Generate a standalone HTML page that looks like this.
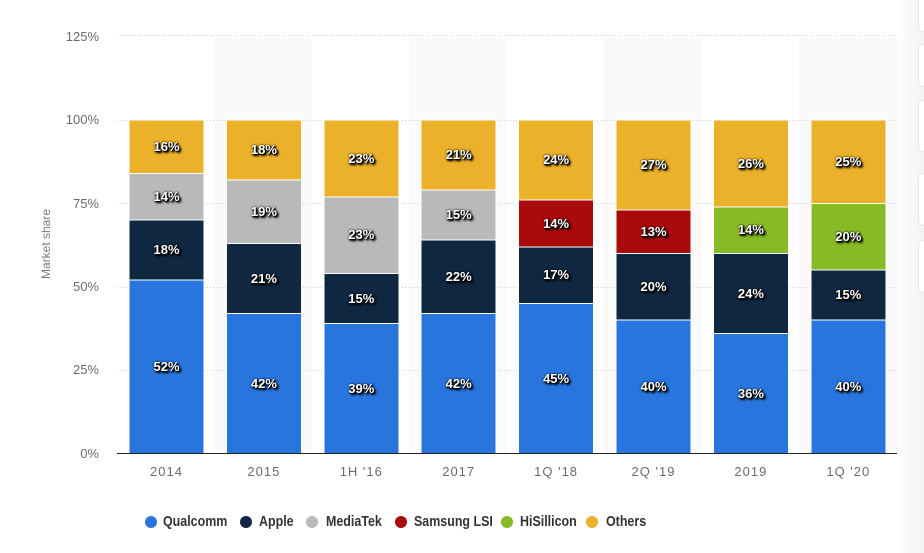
<!DOCTYPE html>
<html><head><meta charset="utf-8">
<style>
*{margin:0;padding:0;box-sizing:border-box}
html,body{width:924px;height:553px;background:#fff;overflow:hidden}
body{position:relative;font-family:"Liberation Sans",sans-serif}
svg{position:absolute;left:0;top:0}
.yl{position:absolute;width:60px;left:39px;text-align:right;font-size:13px;color:#6b6b6b;height:16px;line-height:16px}
.xl{position:absolute;width:100px;text-align:center;font-size:13px;color:#6b6b6b;letter-spacing:1px;height:16px;line-height:16px;top:464px}
.dl{position:absolute;width:80px;text-align:center;font-size:13px;font-weight:bold;color:#fff;height:16px;line-height:16px;text-shadow:1px 1px 1px #000,1px 1px 2px #000,2px 2px 2px #000,0 0 2px #000}
.lc{position:absolute;width:12px;height:12px;border-radius:50%;top:516px}
.lt{position:absolute;top:512px;font-size:15px;font-weight:bold;color:#333;white-space:nowrap;transform:scaleX(0.83);transform-origin:left center;line-height:20px}
.ms{position:absolute;left:-4px;top:236px;width:100px;text-align:center;font-size:12px;color:#7a7a7a;transform:rotate(-90deg);line-height:16px}
.rp{position:absolute;left:896px;top:0;width:28px;height:553px;background:linear-gradient(to right,#ffffff,#f2f3f5)}
.rb{position:absolute;left:918px;width:10px;background:#fff;border:1px solid #e6e7ea;border-radius:6px}
</style></head><body>
<div class="rp"></div>
<div class="rb" style="top:-6px;height:38px"></div>
<div class="rb" style="top:44px;height:43px"></div>
<div class="rb" style="top:100px;height:52px"></div>
<div class="rb" style="top:173px;height:53px"></div>
<div class="rb" style="top:240px;height:53px"></div>
<svg width="924" height="553" viewBox="0 0 924 553" shape-rendering="crispEdges">
<rect x="214" y="38" width="98" height="415" fill="#fafafa"/>
<rect x="409" y="38" width="98" height="415" fill="#fafafa"/>
<rect x="604" y="38" width="97" height="415" fill="#fafafa"/>
<rect x="799" y="38" width="98" height="415" fill="#fafafa"/>
<g stroke="#cfcfcf" stroke-width="1" stroke-dasharray="1,2">
<line x1="117" y1="35.5" x2="897" y2="35.5"/>
<line x1="117" y1="120.5" x2="897" y2="120.5"/>
<line x1="117" y1="203.5" x2="897" y2="203.5"/>
<line x1="117" y1="287.5" x2="897" y2="287.5"/>
<line x1="117" y1="370.5" x2="897" y2="370.5"/>
</g>
<g stroke="#fff" stroke-width="1">
<rect x="129" y="280.2" width="75" height="173.3" fill="#2876dd"/>
<rect x="129" y="220.2" width="75" height="60" fill="#0f2740"/>
<rect x="129" y="173.5" width="75" height="46.7" fill="#b9b9b9"/>
<rect x="129" y="120.2" width="75" height="53.3" fill="#ecb12a"/>
<rect x="226.4" y="313.5" width="75" height="140" fill="#2876dd"/>
<rect x="226.4" y="243.5" width="75" height="70" fill="#0f2740"/>
<rect x="226.4" y="180.2" width="75" height="63.3" fill="#b9b9b9"/>
<rect x="226.4" y="120.2" width="75" height="60" fill="#ecb12a"/>
<rect x="323.8" y="323.5" width="75" height="130" fill="#2876dd"/>
<rect x="323.8" y="273.5" width="75" height="50" fill="#0f2740"/>
<rect x="323.8" y="196.8" width="75" height="76.7" fill="#b9b9b9"/>
<rect x="323.8" y="120.2" width="75" height="76.6" fill="#ecb12a"/>
<rect x="421.2" y="313.5" width="75" height="140" fill="#2876dd"/>
<rect x="421.2" y="240.2" width="75" height="73.3" fill="#0f2740"/>
<rect x="421.2" y="190.2" width="75" height="50" fill="#b9b9b9"/>
<rect x="421.2" y="120.2" width="75" height="70" fill="#ecb12a"/>
<rect x="518.6" y="303.5" width="75" height="150" fill="#2876dd"/>
<rect x="518.6" y="246.8" width="75" height="56.7" fill="#0f2740"/>
<rect x="518.6" y="200.2" width="75" height="46.6" fill="#a90a0b"/>
<rect x="518.6" y="120.2" width="75" height="80" fill="#ecb12a"/>
<rect x="616" y="320.2" width="75" height="133.3" fill="#2876dd"/>
<rect x="616" y="253.5" width="75" height="66.7" fill="#0f2740"/>
<rect x="616" y="210.2" width="75" height="43.3" fill="#a90a0b"/>
<rect x="616" y="120.2" width="75" height="90" fill="#ecb12a"/>
<rect x="713.4" y="333.5" width="75" height="120" fill="#2876dd"/>
<rect x="713.4" y="253.5" width="75" height="80" fill="#0f2740"/>
<rect x="713.4" y="206.8" width="75" height="46.7" fill="#87bb25"/>
<rect x="713.4" y="120.2" width="75" height="86.6" fill="#ecb12a"/>
<rect x="810.8" y="320.2" width="75" height="133.3" fill="#2876dd"/>
<rect x="810.8" y="270.2" width="75" height="50" fill="#0f2740"/>
<rect x="810.8" y="203.5" width="75" height="66.7" fill="#87bb25"/>
<rect x="810.8" y="120.2" width="75" height="83.3" fill="#ecb12a"/>
</g>
<line x1="117" y1="453.5" x2="897" y2="453.5" stroke="#222" stroke-width="1"/>
</svg>

<div class="yl" style="top:29px">125%</div>
<div class="yl" style="top:112px">100%</div>
<div class="yl" style="top:196px">75%</div>
<div class="yl" style="top:279px">50%</div>
<div class="yl" style="top:362px">25%</div>
<div class="yl" style="top:446px">0%</div>
<div class="ms">Market share</div>

<div class="xl" style="left:116.5px">2014</div>
<div class="xl" style="left:213.9px">2015</div>
<div class="xl" style="left:311.3px">1H '16</div>
<div class="xl" style="left:408.7px">2017</div>
<div class="xl" style="left:506.1px">1Q '18</div>
<div class="xl" style="left:603.5px">2Q '19</div>
<div class="xl" style="left:700.9px">2019</div>
<div class="xl" style="left:798.3px">1Q '20</div>

<div class="dl" style="left:126.5px;top:358.8px">52%</div>
<div class="dl" style="left:126.5px;top:242.2px">18%</div>
<div class="dl" style="left:126.5px;top:188.8px">14%</div>
<div class="dl" style="left:126.5px;top:138.8px">16%</div>

<div class="dl" style="left:223.9px;top:375.5px">42%</div>
<div class="dl" style="left:223.9px;top:270.5px">21%</div>
<div class="dl" style="left:223.9px;top:203.8px">19%</div>
<div class="dl" style="left:223.9px;top:142.2px">18%</div>

<div class="dl" style="left:321.3px;top:380.5px">39%</div>
<div class="dl" style="left:321.3px;top:290.5px">15%</div>
<div class="dl" style="left:321.3px;top:227.2px">23%</div>
<div class="dl" style="left:321.3px;top:150.5px">23%</div>

<div class="dl" style="left:418.7px;top:375.5px">42%</div>
<div class="dl" style="left:418.7px;top:268.8px">22%</div>
<div class="dl" style="left:418.7px;top:207.2px">15%</div>
<div class="dl" style="left:418.7px;top:147.2px">21%</div>

<div class="dl" style="left:516.1px;top:370.5px">45%</div>
<div class="dl" style="left:516.1px;top:267.2px">17%</div>
<div class="dl" style="left:516.1px;top:215.5px">14%</div>
<div class="dl" style="left:516.1px;top:152.2px">24%</div>

<div class="dl" style="left:613.5px;top:378.8px">40%</div>
<div class="dl" style="left:613.5px;top:278.8px">20%</div>
<div class="dl" style="left:613.5px;top:223.8px">13%</div>
<div class="dl" style="left:613.5px;top:157.2px">27%</div>

<div class="dl" style="left:710.9px;top:385.5px">36%</div>
<div class="dl" style="left:710.9px;top:285.5px">24%</div>
<div class="dl" style="left:710.9px;top:222.2px">14%</div>
<div class="dl" style="left:710.9px;top:155.5px">26%</div>

<div class="dl" style="left:808.3px;top:378.8px">40%</div>
<div class="dl" style="left:808.3px;top:287.2px">15%</div>
<div class="dl" style="left:808.3px;top:228.8px">20%</div>
<div class="dl" style="left:808.3px;top:153.8px">25%</div>

<div class="lc" style="left:145px;background:#2876dd"></div>
<div class="lt" style="left:163px">Qualcomm</div>
<div class="lc" style="left:240px;background:#0f2740"></div>
<div class="lt" style="left:259px">Apple</div>
<div class="lc" style="left:306px;background:#b9b9b9"></div>
<div class="lt" style="left:326px">MediaTek</div>
<div class="lc" style="left:395px;background:#a90a0b"></div>
<div class="lt" style="left:414px">Samsung LSI</div>
<div class="lc" style="left:501px;background:#87bb25"></div>
<div class="lt" style="left:520px">HiSillicon</div>
<div class="lc" style="left:586px;background:#ecb12a"></div>
<div class="lt" style="left:606px">Others</div>
</body></html>
